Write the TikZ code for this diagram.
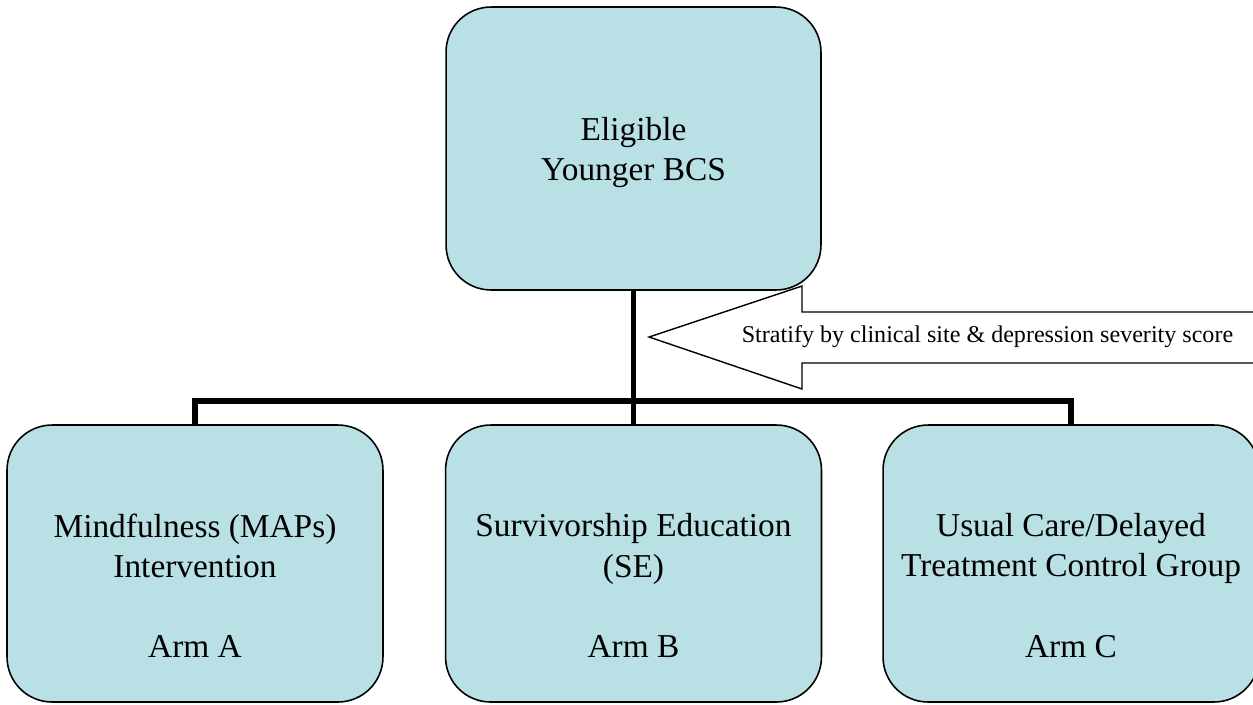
\documentclass[tikz,border=0pt]{standalone}
\usepackage{fontspec}
\setmainfont{Liberation Serif}
\usepackage{xcolor}
\usepackage{tikz}
\usetikzlibrary{positioning,calc}
\definecolor{boxcyan}{RGB}{185,224,228}

\begin{document}
\begin{tikzpicture}[x=0.02cm, y=-0.02cm,
    box/.style={draw=black, line width=0.9pt, fill=boxcyan, rounded corners=0.9cm, inner sep=0pt},
    topbox/.style={box, minimum width=7.5cm, minimum height=5.66cm},
    armbox/.style={box, minimum width=7.52cm, minimum height=5.54cm},
    boxtext/.style={align=center, font=\fontsize{19}{22.8}\selectfont},
    link/.style={draw=black, line width=2.9pt, line join=miter},
    banner/.style={draw=black, line width=0.8pt, fill=white, line join=miter},
    bannertext/.style={font=\fontsize{13.7}{16}\selectfont, anchor=center}]

    % Canvas in pixel units of the page
    \useasboundingbox (0,0) rectangle (1253,704);

    % Row of the three arms
    \def\armY{563.5}

    % Top box
    \node[topbox] (elig) at (633.5,148.5) {};
    \node[boxtext] (textE) at ([yshift=-0.08cm]elig.center) {Eligible\\Younger BCS};

    % Arms
    \node[armbox] (armA) at (195,\armY) {};
    \node[armbox] (armB) at (633.5,\armY) {};
    \node[armbox] (armC) at (1071,\armY) {};
    \node[boxtext] (textA) at ([yshift=-0.44cm]armA.center)
        {Mindfulness (MAPs)\\Intervention\\[22.8pt]Arm A};
    \node[boxtext] (textB) at ([yshift=-0.44cm]armB.center)
        {Survivorship Education\\(SE)\\[22.8pt]Arm B};
    \node[boxtext] (textC) at ([yshift=-0.44cm]armC.center)
        {Usual Care/Delayed\\Treatment Control Group\\[22.8pt]Arm C};

    % Randomisation tree
    \coordinate (bus) at (633.5,401);
    \draw[link] (elig) -- (armB);
    \draw[link] (armA.north) |- (bus) -| (armC.north);

    % Stratification banner, shaft runs off the right edge
    \coordinate (tip) at (649,337);
    \draw[banner] (tip) -- (802,286) -- (802,312) -- (1275,312)
        -- (1275,363) -- (802,363) -- (802,389) -- cycle;
    \node[bannertext] (strat) at (987.5,337)
        {Stratify by clinical site \& depression severity score};
\end{tikzpicture}
\end{document}
